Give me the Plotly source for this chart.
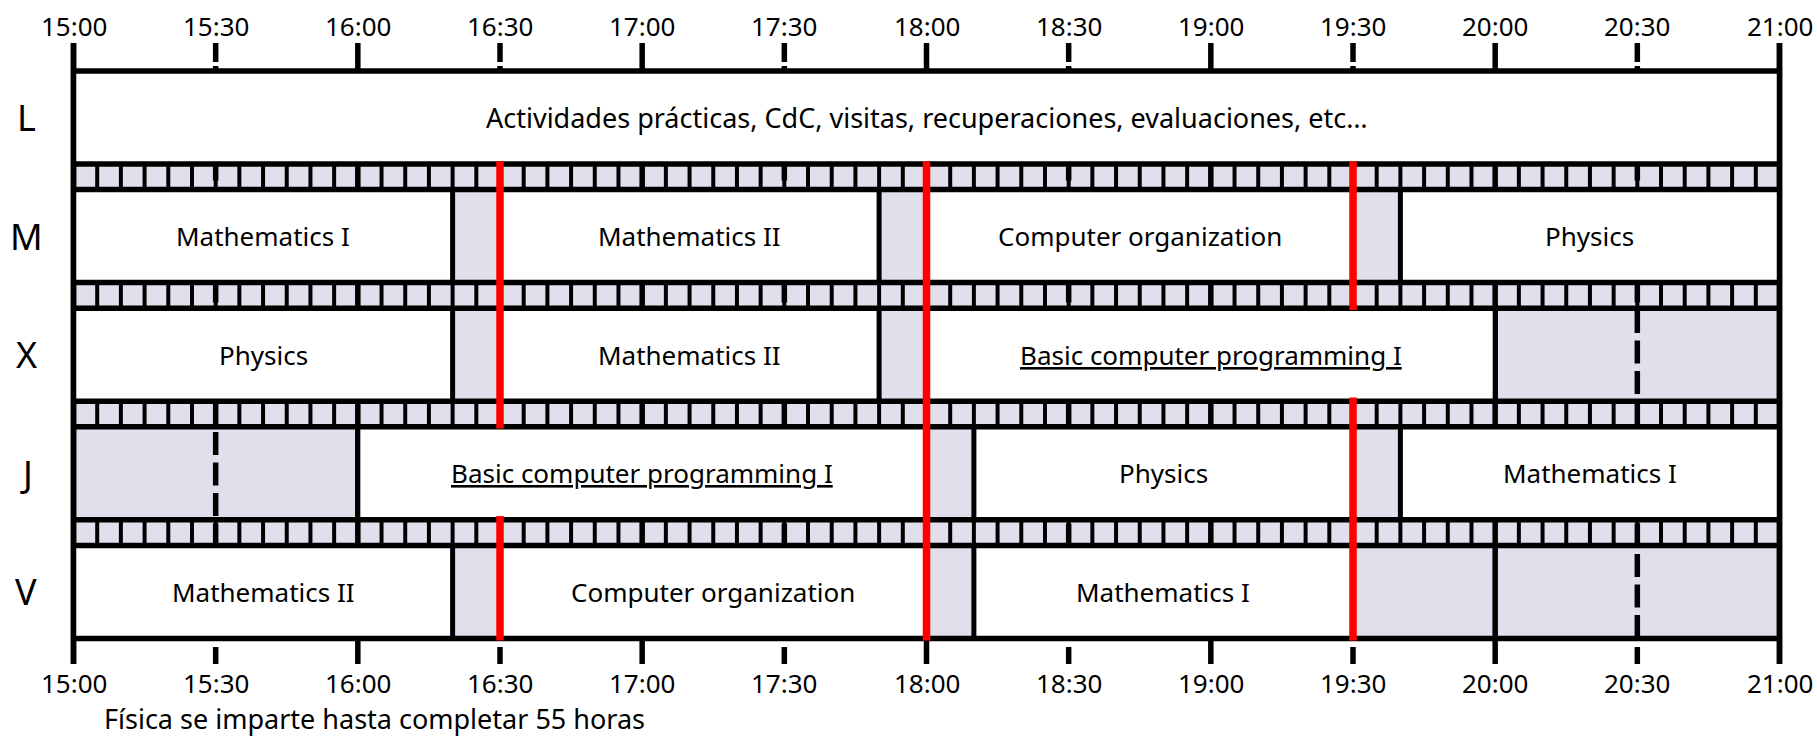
import plotly.graph_objects as go

# ---------------- data ----------------
days = ["L", "M", "X", "J", "V"]
tick_labels = ["15:00", "15:30", "16:00", "16:30", "17:00", "17:30", "18:00",
               "18:30", "19:00", "19:30", "20:00", "20:30", "21:00"]

course_day = ["L",
              "M", "M", "M", "M",
              "X", "X", "X",
              "J", "J", "J",
              "V", "V", "V"]
course_name = ["Actividades prácticas, CdC, visitas, recuperaciones, evaluaciones, etc…",
               "Mathematics I", "Mathematics II", "Computer organization", "Physics",
               "Physics", "Mathematics II", "Basic computer programming I",
               "Basic computer programming I", "Physics", "Mathematics I",
               "Mathematics II", "Computer organization", "Mathematics I"]
course_start = ["15:00",
                "15:00", "16:30", "18:00", "19:40",
                "15:00", "16:30", "18:00",
                "16:00", "18:10", "19:40",
                "15:00", "16:30", "18:10"]
course_end = ["21:00",
              "16:20", "17:50", "19:30", "21:00",
              "16:20", "17:50", "20:00",
              "18:00", "19:30", "21:00",
              "16:20", "18:00", "19:30"]
underlined_courses = ["Basic computer programming I"]
red_times = ["16:30", "18:00", "19:30"]
slot_minutes = 5
day_start, day_end = "15:00", "21:00"
footnote = "Física se imparte hasta completar 55 horas"

# ---------------- style / layout ----------------
W, H = 1817, 736
FONT = "Noto Sans"
LAV = "#E1DFEC"
BLACK = "#000000"
RED = "#FF0000"
X_LEFT_PX, X_RIGHT_PX = 73.5, 1779.5
ROW0_TOP = 71.0
ROW_H = 93.0
PERIOD = 118.6
BORDER = 5.5
EDGE = 5.0
SEP = 4.0
RED_W = 7.5
TICK_TOP = 43.0
TICK_BOTTOM = 664.0
HALF_TOP_TICK_END = 62.0
HALF_DASH_START = 66.0
HALF_BOTTOM_TICK_START = 647.0


def minutes(t):
    h, m = t.split(":")
    return (int(h) - 15) * 60 + int(m)


t0, t1 = minutes(day_start), minutes(day_end)
ppm = (X_RIGHT_PX - X_LEFT_PX) / (t1 - t0)
x_range = [t0 - X_LEFT_PX / ppm, t1 + (W - X_RIGHT_PX) / ppm]


def row_top(i):
    return ROW0_TOP + i * PERIOD


def row_bot(i):
    return row_top(i) + ROW_H


def vline(x, y0, y1, color=BLACK, width=EDGE, dash=None):
    ln = dict(color=color, width=width)
    if dash:
        ln["dash"] = dash
    return dict(type="line", xref="x", yref="y", x0=x, x1=x, y0=y0, y1=y1, line=ln)


def hline(y, x0, x1, color=BLACK, width=BORDER):
    return dict(type="line", xref="x", yref="y", x0=x0, x1=x1, y0=y, y1=y,
                line=dict(color=color, width=width))


def rect(x0, x1, y0, y1, fill):
    return dict(type="rect", xref="x", yref="y", x0=x0, x1=x1, y0=y0, y1=y1,
                fillcolor=fill, line=dict(width=0))


shapes = []
n = len(days)

# row backgrounds (free time = lavender)
for i in range(n):
    shapes.append(rect(t0, t1, row_top(i), row_bot(i), LAV))
# strips between rows
for i in range(n - 1):
    shapes.append(rect(t0, t1, row_bot(i), row_top(i + 1), LAV))
    m = t0 + slot_minutes
    while m < t1:
        shapes.append(vline(m, row_bot(i), row_top(i + 1), width=SEP))
        m += slot_minutes

# grid lines / ticks
tick_mins = [minutes(t) for t in tick_labels]
for m in tick_mins:
    if m % 60 == 0:
        shapes.append(vline(m, TICK_TOP, TICK_BOTTOM, width=BORDER))
    else:
        shapes.append(vline(m, TICK_TOP, HALF_TOP_TICK_END, width=BORDER))
        shapes.append(vline(m, HALF_DASH_START, row_bot(n - 1), width=BORDER, dash="23px,7.5px"))
        shapes.append(vline(m, HALF_BOTTOM_TICK_START, TICK_BOTTOM, width=BORDER))

# course blocks
for d, s, e in zip(course_day, course_start, course_end):
    i = days.index(d)
    a, b = minutes(s), minutes(e)
    shapes.append(rect(a, b, row_top(i), row_bot(i), "#FFFFFF"))
for d, s, e in zip(course_day, course_start, course_end):
    i = days.index(d)
    for m in (minutes(s), minutes(e)):
        if t0 < m < t1:
            shapes.append(vline(m, row_top(i), row_bot(i), width=EDGE))

# horizontal row borders
for i in range(n):
    shapes.append(hline(row_top(i), t0, t1))
    shapes.append(hline(row_bot(i), t0, t1))
# outer borders
shapes.append(vline(t0, TICK_TOP, TICK_BOTTOM, width=BORDER))
shapes.append(vline(t1, TICK_TOP, TICK_BOTTOM, width=BORDER))

# red lines: continuous except through a class that spans the time
for rt in red_times:
    m = minutes(rt)
    y_start = row_bot(0) - BORDER / 2
    seg_start = y_start
    for i in range(1, n):
        blocked = any(days.index(d) == i and minutes(s) < m < minutes(e)
                      for d, s, e in zip(course_day, course_start, course_end))
        if blocked:
            shapes.append(vline(m, seg_start, row_top(i) + BORDER / 2 - 1, color=RED, width=RED_W))
            seg_start = row_bot(i) - BORDER / 2 - 1
    shapes.append(vline(m, seg_start, row_bot(n - 1) + 2, color=RED, width=RED_W))

# ---------------- text ----------------
annotations = []
for lab in tick_labels:
    m = minutes(lab)
    for y in (26, 683):
        annotations.append(dict(x=m, y=y, xref="x", yref="y", text=lab, showarrow=False,
                                borderpad=0,
                                font=dict(family=FONT, size=26, color=BLACK),
                                xanchor="center", yanchor="middle"))
for i, d in enumerate(days):
    annotations.append(dict(x=26 / W, y=(row_top(i) + row_bot(i)) / 2, xref="paper", yref="y",
                            text=d, showarrow=False,
                            font=dict(family=FONT, size=36, color=BLACK),
                            xanchor="center", yanchor="middle"))
for d, name, s, e in zip(course_day, course_name, course_start, course_end):
    i = days.index(d)
    txt = f"<u>{name}</u>" if name in underlined_courses else name
    size = 27 if d == "L" else 26
    annotations.append(dict(x=(minutes(s) + minutes(e)) / 2, y=(row_top(i) + row_bot(i)) / 2,
                            xref="x", yref="y", text=txt, showarrow=False,
                            font=dict(family=FONT, size=size, color=BLACK),
                            xanchor="center", yanchor="middle"))
annotations.append(dict(x=103 / W, y=718.5, xref="paper", yref="y", text=footnote,
                        showarrow=False, borderpad=0,
                        font=dict(family=FONT, size=27, color=BLACK),
                        xanchor="left", yanchor="middle"))

fig = go.Figure()
fig.update_layout(
    width=W, height=H, autosize=False,
    margin=dict(l=0, r=0, t=0, b=0, pad=0),
    paper_bgcolor="white", plot_bgcolor="white",
    xaxis=dict(range=x_range, visible=False, fixedrange=True),
    yaxis=dict(range=[H, 0], visible=False, fixedrange=True),
    shapes=shapes, annotations=annotations, showlegend=False,
)
fig.write_html(
    "out.html",
    config={"displayModeBar": False},
    post_script="document.body.style.margin='0';document.body.style.overflow='hidden';",
)
